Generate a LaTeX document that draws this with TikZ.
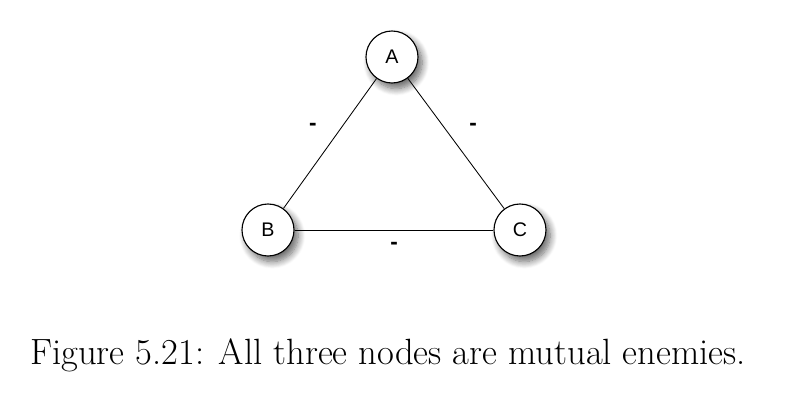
\documentclass[tikz,border=0pt]{standalone}
\usepackage{fontspec}
\newfontfamily\nodefont{Liberation Sans}
\usetikzlibrary{shadows.blur}

\tikzset{vert/.style={circle,draw,thick,fill=white,minimum size=1.3cm,inner sep=0pt,
  font=\nodefont\fontsize{14}{16}\selectfont,
  blur shadow={shadow xshift=3pt,shadow yshift=-4pt,shadow blur radius=5pt,shadow blur steps=10,shadow opacity=60}},
  sgn/.style={font=\nodefont\bfseries\fontsize{16}{18}\selectfont}}

\begin{document}
\begin{tikzpicture}

\useasboundingbox (0,0) rectangle (19.675,10.075);

\node[vert] (A) at (9.8,8.65) {A};
\node[vert] (B) at (6.7,4.325) {B};
\node[vert] (C) at (13.0,4.325) {C};

\draw[line width=0.6pt] (A) -- (B) node[sgn,midway,xshift=-0.43cm,yshift=0.41cm] {-};
\draw[line width=0.6pt] (A) -- (C) node[sgn,midway,xshift=0.43cm,yshift=0.41cm] {-};
\draw[line width=0.6pt] (B) -- (C) node[sgn,midway,yshift=-0.4cm] {-};

\node (cap) at (9.7,1.2) {\fontsize{26}{30}\selectfont Figure 5.21: All three nodes are mutual enemies.};

\end{tikzpicture}
\end{document}
